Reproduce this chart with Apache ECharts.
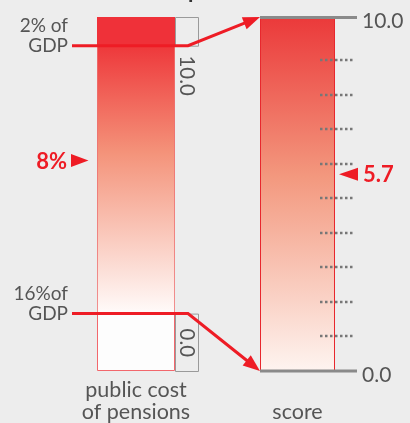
<!DOCTYPE html>
<html><head><meta charset="utf-8">
<script src="https://cdn.jsdelivr.net/npm/echarts@6/dist/echarts.min.js"></script>
<style>html,body{margin:0;padding:0;background:#ededed;}#c{width:410px;height:423px;}</style>
</head><body><div id="c"></div>
<script>
// ---- data ----
const categories = ['public cost\nof pensions', 'score'];
const costRange = [2, 16];                      // % of GDP (top = best, bottom = worst)
const costRangeLabels = ['2% of\nGDP', '16%of\nGDP'];
const costBracketLabels = ['10.0', '0.0'];      // score equivalent of the range ends
const costValue = 8;
const costValueLabel = '8%';
const scoreRange = [0, 10];
const scoreRangeLabels = ['0.0', '10.0'];
const scoreTicks = [1, 2, 3, 4, 5, 6, 7, 8, 9];
const scoreValue = 5.7;
const scoreValueLabel = '5.7';
const titleFragment = 'p';

// ---- layout / style ----
const COST_AXIS = [0.5, 19];
const SCORE_AXIS_MAX = 10.25;
const LG = {left: 97, width: 78}, RG = {left: 260, width: 75}, TOP = 17, H = 355;
const RED = '#ee1c25', GRAY = '#8a8a8a', TXT = '#555';
const FF = 'Lato, "Open Sans", sans-serif';

const chart = echarts.init(document.getElementById('c'));
chart.setOption({
  backgroundColor: '#ededed',
  animation: false,
  grid: [
    {left: LG.left, width: LG.width, top: TOP, height: H},
    {left: RG.left, width: RG.width, top: TOP, height: H}
  ],
  xAxis: [
    {type: 'category', gridIndex: 0, data: [categories[0]], axisLine: {show: false}, axisTick: {show: false},
     axisLabel: {color: TXT, fontSize: 21.5, lineHeight: 22, margin: 8, fontFamily: FF}},
    {type: 'category', gridIndex: 1, data: [categories[1]], axisLine: {show: false}, axisTick: {show: false},
     axisLabel: {color: TXT, fontSize: 21.5, lineHeight: 22, margin: 30, fontFamily: FF}}
  ],
  yAxis: [
    {type: 'value', gridIndex: 0, inverse: true, min: COST_AXIS[0], max: COST_AXIS[1], show: false},
    {type: 'value', gridIndex: 1, min: scoreRange[0], max: SCORE_AXIS_MAX, show: false}
  ],
  series: [
    {type: 'bar', xAxisIndex: 0, yAxisIndex: 0, stack: 'c', barWidth: '100%', silent: true,
     data: [costRange[0]], itemStyle: {color: '#ef3139'}},
    {type: 'bar', xAxisIndex: 0, yAxisIndex: 0, stack: 'c', barWidth: '100%', silent: true,
     data: [costRange[1] - costRange[0]],
     itemStyle: {color: new echarts.graphic.LinearGradient(0, 0, 0, 1, [
        {offset: 0, color: '#ee383b'}, {offset: 0.4, color: '#f4937a'}, {offset: 1, color: '#fffbfa'}]),
       borderColor: 'rgba(238,70,70,0.35)', borderWidth: 1}},
    {type: 'bar', xAxisIndex: 0, yAxisIndex: 0, stack: 'c', barWidth: '100%', silent: true,
     data: [COST_AXIS[1] - costRange[1]], itemStyle: {color: '#fdfdfd', borderColor: '#f2676c', borderWidth: 1}},
    {type: 'bar', xAxisIndex: 1, yAxisIndex: 1, barWidth: '100%', silent: true,
     data: [SCORE_AXIS_MAX],
     itemStyle: {color: new echarts.graphic.LinearGradient(0, 0, 0, 1, [
        {offset: 0, color: '#eb393a'}, {offset: 0.45, color: '#f3987e'}, {offset: 1, color: '#fef4f0'}]),
       borderColor: '#e8272d', borderWidth: 1}}
  ]
});

const yC = v => chart.convertToPixel({yAxisIndex: 0}, v);
const yS = v => chart.convertToPixel({yAxisIndex: 1}, v);
const g = [];
const Z = 100;
const txt = (x, y, text, font, fill, align, va, extra) => Object.assign({type: 'text', x, y, z: Z,
  style: {text, font, fill, align, verticalAlign: va, lineHeight: 20}}, extra || {});

const lRight = LG.left + LG.width;
const bw = 23;
// brackets on the cost column
const yTop = yC(costRange[0]), yBot = yC(costRange[1]);
g.push({type: 'rect', z: Z, shape: {x: lRight + 0.5, y: TOP + 0.5, width: bw, height: yTop - TOP}, style: {fill: null, stroke: '#9a9a9a', lineWidth: 1}});
g.push({type: 'rect', z: Z, shape: {x: lRight + 0.5, y: yBot + 0.5, width: bw, height: TOP + H - yBot - 1}, style: {fill: null, stroke: '#9a9a9a', lineWidth: 1}});
g.push(txt(lRight + 12, yTop + 30, costBracketLabels[0], '20.5px ' + FF, TXT, 'center', 'middle', {rotation: -Math.PI / 2}));
g.push(txt(lRight + 12, (yBot + TOP + H) / 2, costBracketLabels[1], '20.5px ' + FF, TXT, 'center', 'middle', {rotation: -Math.PI / 2}));

// GDP labels
g.push(txt(68, yTop - 10, costRangeLabels[0], '19px ' + FF, TXT, 'right', 'middle'));
g.push(txt(68, yBot - 10, costRangeLabels[1], '19px ' + FF, TXT, 'right', 'middle'));

// connectors
function connector(y0, tip) {
  const bx = 188;
  const dx = tip[0] - bx, dy = tip[1] - y0, len = Math.hypot(dx, dy);
  const ux = dx / len, uy = dy / len, al = 17, aw = 6.5;
  const end = [tip[0] - ux * (al - 3), tip[1] - uy * (al - 3)];
  g.push({type: 'polyline', z: Z, shape: {points: [[72, y0], [bx, y0], end]}, style: {stroke: RED, lineWidth: 3, fill: null}});
  const b = [tip[0] - ux * al, tip[1] - uy * al];
  g.push({type: 'polygon', z: Z, shape: {points: [tip, [b[0] - uy * aw, b[1] + ux * aw], [b[0] + uy * aw, b[1] - ux * aw]]}, style: {fill: RED}});
}
connector(yTop, [RG.left, yS(SCORE_AXIS_MAX)]);
connector(yBot, [RG.left, yS(scoreRange[0])]);

// score ends
const sTop = yS(SCORE_AXIS_MAX) + 0.5, sBot = yS(scoreRange[0]);
g.push({type: 'line', z: Z, shape: {x1: RG.left, y1: sTop, x2: 357, y2: sTop}, style: {stroke: GRAY, lineWidth: 3}});
g.push({type: 'line', z: Z, shape: {x1: RG.left, y1: sBot, x2: 357, y2: sBot}, style: {stroke: GRAY, lineWidth: 3}});
g.push(txt(362, sTop + 4, scoreRangeLabels[1], '21px ' + FF, TXT, 'left', 'middle'));
g.push(txt(362, sBot + 4, scoreRangeLabels[0], '21px ' + FF, TXT, 'left', 'middle'));

// dotted ticks
scoreTicks.forEach(t => {
  const y = Math.round(yS(t));
  g.push({type: 'line', z: Z, shape: {x1: 320, y1: y, x2: 353, y2: y}, style: {stroke: '#777', lineWidth: 2.5, lineDash: [2.5, 2.5]}});
});

// markers
const ym = yC(costValue);
g.push({type: 'polygon', z: Z, shape: {points: [[71, ym - 6.5], [88.5, ym], [71, ym + 6.5]]}, style: {fill: RED}});
g.push(txt(67, ym + 1, costValueLabel, 'bold 22px ' + FF, RED, 'right', 'middle'));
const ys = yS(scoreValue);
g.push({type: 'polygon', z: Z, shape: {points: [[339, ys], [358, ys - 6.5], [358, ys + 6.5]]}, style: {fill: RED}});
g.push(txt(363, ys + 1, scoreValueLabel, 'bold 22px ' + FF, RED, 'left', 'middle'));

// clipped title fragment
g.push(txt(188, -9, titleFragment, 'bold 22px ' + FF, '#333', 'left', 'middle'));

chart.setOption({graphic: g});
</script></body></html>
